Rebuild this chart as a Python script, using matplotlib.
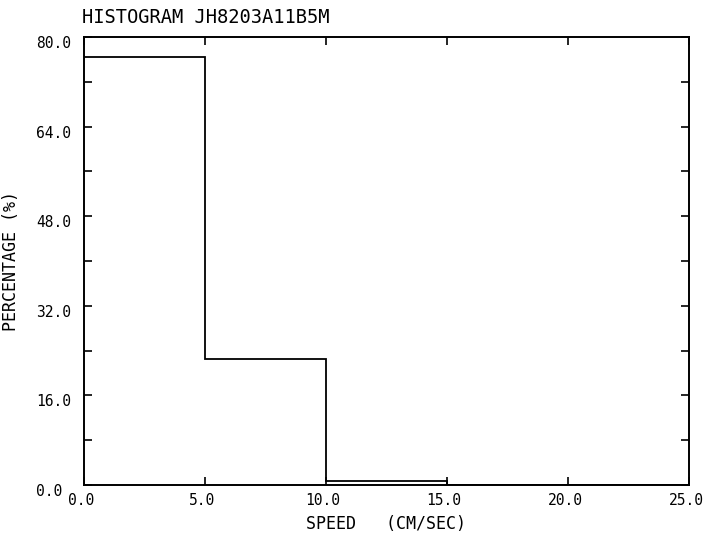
import matplotlib
matplotlib.use("Agg")
import matplotlib.pyplot as plt
import matplotlib.transforms as mtransforms
import numpy as np

# data
bin_edges = [0.0, 5.0, 10.0, 15.0, 20.0, 25.0]
percentages = [76.4, 22.5, 0.8, 0.0, 0.0]
x_ticks = [0.0, 5.0, 10.0, 15.0, 20.0, 25.0]
x_tick_labels = ["0.0", "5.0", "10.0", "15.0", "20.0", "25.0"]
y_ticks = [0.0, 16.0, 32.0, 48.0, 64.0, 80.0]
y_tick_labels = ["0.0", "16.0", "32.0", "48.0", "64.0", "80.0"]
y_minor = [8.0, 24.0, 40.0, 56.0, 72.0]
title = "HISTOGRAM JH8203A11B5M"
xlabel = "SPEED   (CM/SEC)"
ylabel = "PERCENTAGE (%)"

FONT = "DejaVu Sans Mono"

fig = plt.figure(figsize=(7.08, 5.37), dpi=100)
ax = fig.add_axes([84 / 708, 52 / 537, 605 / 708, 448 / 537])

ax.stairs(percentages, bin_edges, color="black", linewidth=1.3, baseline=None)

ax.set_xlim(0, 25)
ax.set_ylim(0, 80)
for s in ax.spines.values():
    s.set_linewidth(1.4)

ax.set_xticks(x_ticks)
ax.set_xticklabels(x_tick_labels, fontfamily=FONT, fontsize=10.5)
ax.set_yticks(y_ticks)
ax.set_yticklabels(y_tick_labels, fontfamily=FONT, fontsize=10.5)
ax.set_yticks(y_minor, minor=True)
ax.tick_params(axis="both", which="both", direction="in", length=6, width=1.2,
               top=True, right=True)
ax.tick_params(axis="x", which="major", pad=6)
ax.tick_params(axis="y", which="major", pad=34.5)

dy = mtransforms.ScaledTranslation(0, -5 / 100, fig.dpi_scale_trans)
for lab in ax.get_yticklabels():
    lab.set_horizontalalignment("left")
    lab.set_transform(lab.get_transform() + dy)
dx = mtransforms.ScaledTranslation(-3 / 100, 0, fig.dpi_scale_trans)
for lab in ax.get_xticklabels():
    lab.set_transform(lab.get_transform() + dx)

ax.set_xlabel(xlabel, fontfamily=FONT, fontsize=12)
ax.xaxis.set_label_coords(0.5, -30 / 448)
ax.set_ylabel(ylabel, fontfamily=FONT, fontsize=12)
ax.yaxis.set_label_coords(-64 / 605, 0.5)
ax.text(-0.003, 462 / 448, title, transform=ax.transAxes, fontfamily=FONT,
        fontsize=13.5, ha="left", va="baseline")

fig.savefig("out.png", dpi=100)
